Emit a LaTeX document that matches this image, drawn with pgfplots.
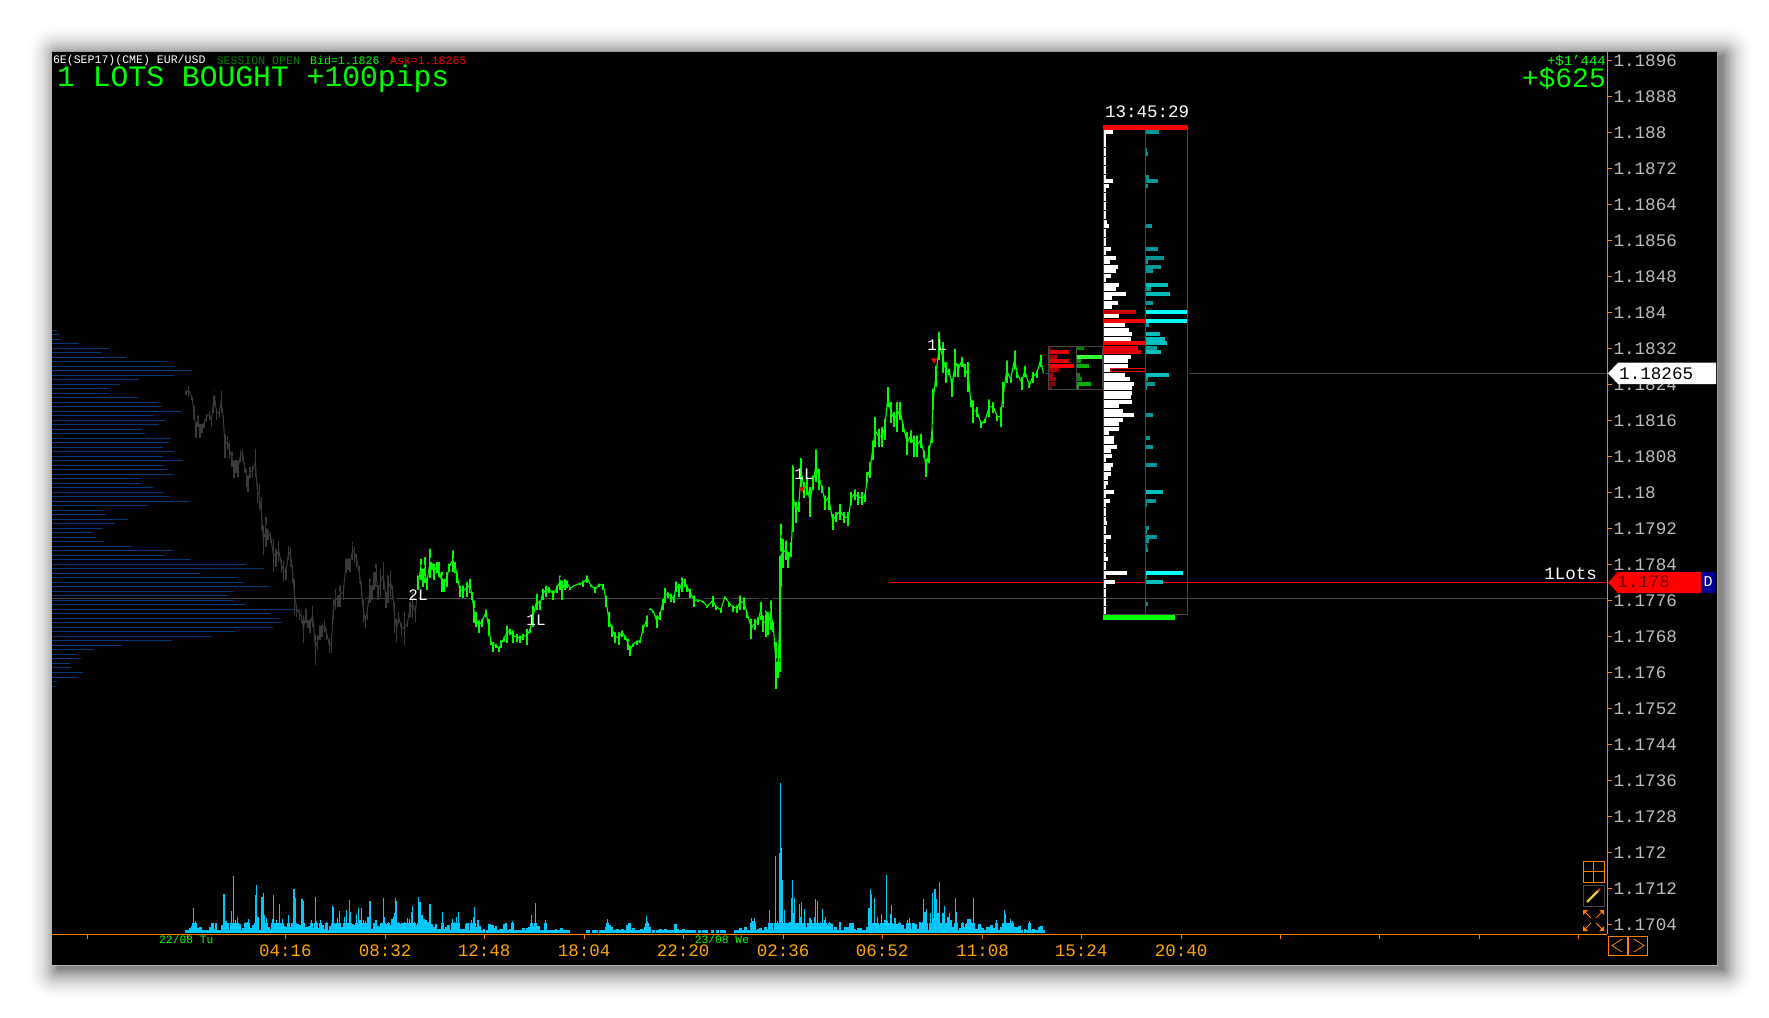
\documentclass[border=0pt]{standalone}
\usepackage{pgfplots}
\usepackage{pgfplotstable}
\usepackage{fontspec}
\setmainfont{Liberation Mono}
\pgfplotsset{compat=1.18}
\newcommand\fs[1]{\fontsize{#1}{#1}\selectfont}
\definecolor{org}{RGB}{255,128,0}
\definecolor{tlab}{RGB}{255,165,0}
\definecolor{vol}{RGB}{0,200,255}
\definecolor{prof}{RGB}{0,56,120}
\definecolor{cand}{RGB}{58,58,58}
\definecolor{grn}{RGB}{0,255,0}
\definecolor{lin}{RGB}{70,70,70}
\definecolor{ylab}{RGB}{190,190,190}
\definecolor{cyA}{RGB}{0,255,255}
\definecolor{cyB}{RGB}{0,190,190}
\definecolor{cyC}{RGB}{0,150,150}
% candle readings: crop x, crop y of high, crop y of low (3x crops of the reference)
\pgfplotstableread[row sep=\\]{a h l\\
48 55 75\\56 42 80\\66 75 90\\72 100 150\\78 150 205\\84 130 170\\90 155 205\\96 155 190\\102 145 175\\110 125 155\\118 115 150\\124 135 170\\130 70 130\\134 55 110\\140 110 150\\148 105 145\\154 55 130\\160 130 165\\165 185 265\\172 190 240\\178 210 265\\186 240 290\\192 265 325\\198 255 310\\204 265 320\\212 235 275\\218 225 275\\224 270 310\\230 290 350\\234 310 365\\240 285 325\\248 280 325\\256 230 320\\262 325 400\\268 335 420\\274 375 480\\280 460 555\\288 435 530\\294 470 510\\302 480 520\\310 500 605\\318 530 590\\326 505 575\\334 555 610\\340 565 635\\348 585 630\\356 520 570\\362 525 590\\368 580 640\\374 620 735\\380 695 740\\388 710 750\\394 715 760\\400 730 820\\408 710 760\\414 745 775\\420 740 790\\428 700 770\\436 780 885\\442 790 840\\450 760 810\\456 755 800\\464 745 790\\470 770 810\\478 800 850\\484 795 850\\490 680 750\\496 650 720\\504 670 710\\510 640 710\\520 640 690\\528 560 610\\534 550 600\\540 560 605\\548 510 570\\554 525 575\\560 545 590\\568 580 640\\574 630 680\\580 680 760\\586 730 775\\592 700 750\\600 620 700\\606 640 690\\612 600 660\\618 575 650\\624 640 690\\632 590 680\\640 570 660\\648 660 715\\654 610 700\\662 595 680\\668 640 690\\674 690 790\\680 740 815\\686 720 760\\694 750 800\\704 720 825\\712 750 770\\720 690 740\\728 660 745\\736 700 755\\740 680 700\\
}\graytab
\pgfplotstableread[row sep=\\]{a h l\\
745 610 660\\752 560 630\\758 590 650\\764 555 640\\770 620 660\\780 530 625\\786 570 600\\792 575 630\\800 570 610\\806 570 620\\815 600 665\\822 620 665\\830 600 650\\838 575 605\\848 535 605\\856 570 610\\862 600 640\\870 640 680\\880 640 685\\890 630 680\\900 620 670\\906 660 690\\912 685 760\\918 720 770\\926 745 790\\935 740 770\\948 712 740\\956 740 800\\962 800 825\\968 810 845\\978 815 835\\986 825 845\\994 805 835\\1002 795 815\\1010 760 820\\1020 770 795\\1030 775 820\\1040 785 815\\1050 790 820\\1060 785 810\\1070 770 825\\1080 770 790\\1090 700 770\\1100 665 720\\1110 685 720\\1118 650 690\\1128 640 680\\1138 645 670\\1150 655 690\\1160 640 670\\1170 610 660\\1176 625 690\\1184 620 660\\1192 625 655\\1200 650 660\\1212 645 650\\1230 635 645\\1240 625 650\\1252 610 640\\1262 640 650\\1276 645 670\\1288 635 650\\1300 635 660\\1308 670 710\\1316 720 770\\1326 760 800\\1336 780 820\\1346 780 825\\1356 775 800\\1366 790 810\\1374 800 840\\1380 820 858\\1390 815 830\\1400 805 825\\1410 805 820\\1420 760 790\\1430 730 770\\
}\greenA
\pgfplotstableread[row sep=\\]{a h l\\
0 860 870\\10 868 880\\20 880 925\\30 870 900\\38 830 870\\45 798 850\\55 810 835\\62 815 845\\72 820 850\\78 778 815\\88 785 830\\96 766 815\\104 770 800\\112 790 815\\120 800 835\\132 820 860\\145 835 845\\160 840 850\\172 855 865\\188 822 860\\198 850 870\\212 860 878\\225 826 835\\238 840 860\\250 850 875\\262 850 878\\270 820 870\\282 826 870\\292 870 895\\304 890 958\\315 890 930\\325 885 915\\332 840 900\\340 880 935\\348 865 950\\355 870 945\\362 835 930\\370 900 935\\378 960 1108\\384 1020 1075\\390 700 1055\\394 605 800\\400 650 745\\408 655 720\\415 690 745\\424 660 710\\430 430 635\\438 540 610\\446 540 575\\454 408 500\\462 480 535\\470 470 525\\480 495 590\\490 460 510\\498 382 485\\508 440 510\\516 490 520\\525 520 570\\536 495 570\\548 575 630\\558 570 605\\570 545 600\\582 570 610\\595 570 618\\604 510 555\\614 502 540\\625 510 555\\635 510 555\\645 515 545\\652 450 490\\660 420 475\\668 355 420\\676 285 380\\686 320 380\\696 315 380\\704 290 360\\714 195 260\\722 240 310\\732 270 320\\740 240 335\\750 240 300\\760 305 335\\772 330 405\\782 325 370\\792 340 410\\802 340 410\\812 335 385\\822 385 415\\828 410 472\\836 370 430\\845 325 370\\850 200 270\\858 130 200\\868 30 120\\878 60 160\\888 120 190\\898 140 165\\906 170 230\\916 80 170\\925 125 170\\935 105 140\\945 125 170\\955 120 215\\962 225 260\\970 235 310\\980 255 290\\994 300 325\\1005 290 310\\1018 232 290\\1030 240 280\\1042 280 302\\1052 255 320\\1060 180 260\\1070 115 190\\1082 165 190\\1094 85 150\\1102 150 175\\1115 165 210\\1124 132 170\\1138 190 205\\1148 150 190\\1160 145 175\\1172 98 140\\1180 155 162\\
}\greenB
% volume: crop x, crop y of bar top
\pgfplotstableread[row sep=\\]{a b\\
108 480\\114 486\\120 474\\126 468\\130 414\\136 452\\142 484\\146 474\\152 470\\158 480\\164 480\\170 486\\176 482\\182 470\\188 458\\194 476\\198 458\\204 484\\210 480\\216 465\\222 372\\228 454\\234 460\\240 486\\244 422\\250 318\\256 450\\262 442\\268 462\\274 486\\280 474\\286 456\\292 456\\296 446\\302 474\\310 465\\316 375\\320 345\\324 440\\330 480\\336 380\\340 370\\344 435\\350 445\\356 470\\362 478\\368 448\\370 375\\376 475\\380 450\\386 465\\388 402\\394 462\\398 447\\404 468\\410 470\\416 435\\420 470\\426 460\\432 358\\436 385\\442 462\\448 466\\456 388\\460 392\\466 470\\472 470\\478 468\\484 450\\490 475\\496 381\\500 452\\506 475\\512 450\\518 465\\524 476\\530 456\\536 480\\542 468\\548 408\\550 410\\556 462\\562 445\\568 422\\574 472\\580 482\\584 442\\590 420\\596 460\\598 390\\602 426\\608 462\\614 464\\620 433\\625 415\\630 450\\634 414\\640 450\\646 452\\652 442\\656 442\\660 393\\666 476\\672 460\\678 450\\684 468\\690 470\\694 458\\700 384\\704 442\\710 462\\716 456\\720 464\\726 448\\730 440\\734 430\\737 384\\740 393\\746 456\\752 462\\758 458\\764 456\\770 458\\772 444\\778 448\\784 426\\788 408\\794 455\\800 465\\805 381\\810 396\\816 435\\822 448\\828 450\\834 455\\840 402\\846 462\\852 472\\858 462\\864 476\\870 478\\876 476\\878 426\\884 476\\890 470\\896 465\\902 480\\908 447\\914 456\\920 441\\925 426\\930 476\\936 478\\942 476\\948 462\\952 458\\956 484\\964 450\\970 442\\973 411\\978 470\\984 450\\990 468\\996 482\\1002 478\\1012 480\\1018 462\\1024 472\\1028 465\\1034 474\\1038 468\\1044 486\\1050 476\\1056 476\\1062 462\\1068 458\\1074 480\\1080 476\\1088 453\\1094 484\\1100 480\\1106 484\\1112 486\\1120 474\\1126 480\\1132 474\\1138 470\\1144 435\\1150 468\\1156 400\\1162 470\\1166 468\\1172 484\\1180 484\\1187 450\\1192 484\\1200 486\\1206 482\\1212 484\\1218 478\\1224 482\\1230 480\\1234 474\\1242 484\\1248 486\\1256 486\\1312 484\\1316 486\\1330 487\\1340 484\\1350 486\\1356 484\\1362 480\\1368 472\\1372 447\\1378 466\\1384 472\\1390 480\\1396 484\\1402 478\\1410 484\\1418 478\\1424 484\\1432 466\\1438 460\\1444 480\\1450 474\\1456 482\\1462 480\\1468 484\\1474 478\\1480 480\\1486 470\\1489 438\\1493 454\\1498 470\\
}\volA
\pgfplotstableread[row sep=\\]{a b\\
0 486\\10 484\\20 484\\30 476\\36 484\\44 476\\52 480\\58 484\\66 480\\72 462\\78 478\\86 484\\94 478\\102 486\\110 486\\116 480\\124 482\\138 486\\150 486\\158 484\\176 486\\190 483\\200 487\\208 487\\240 486\\246 484\\254 474\\260 482\\268 472\\276 482\\284 445\\288 452\\293 444\\298 482\\304 478\\310 474\\316 482\\324 472\\330 476\\335 420\\340 458\\346 480\\351 258\\356 452\\362 250\\366 40\\369 235\\371 330\\376 420\\380 462\\386 460\\392 455\\397 384\\399 330\\402 430\\405 385\\410 460\\418 402\\422 440\\424 396\\428 465\\432 416\\438 470\\444 458\\448 445\\452 450\\456 462\\460 440\\464 388\\468 394\\472 460\\478 456\\483 418\\488 450\\492 440\\498 465\\503 455\\508 462\\514 480\\520 470\\526 480\\532 456\\536 480\\542 484\\548 472\\554 470\\560 458\\566 458\\572 478\\578 486\\584 474\\590 474\\596 486\\604 480\\610 470\\613 414\\617 358\\620 372\\625 460\\628 384\\632 460\\636 440\\640 464\\644 468\\648 432\\654 460\\658 450\\662 316\\665 452\\670 462\\673 432\\676 405\\680 462\\686 444\\692 462\\698 455\\704 476\\708 466\\714 476\\720 450\\726 444\\732 478\\738 458\\744 462\\750 478\\756 456\\762 456\\765 388\\770 426\\775 418\\780 480\\785 430\\790 370\\793 445\\798 358\\802 388\\806 430\\810 336\\815 460\\820 430\\824 408\\830 462\\834 440\\838 428\\843 450\\848 470\\855 385\\858 425\\864 480\\870 475\\874 455\\880 470\\885 462\\890 448\\896 448\\900 455\\905 385\\910 482\\915 478\\922 462\\926 470\\932 475\\938 482\\944 472\\950 470\\956 466\\964 474\\970 450\\976 484\\984 472\\990 460\\993 420\\996 432\\1002 460\\1008 478\\1010 447\\1015 452\\1022 472\\1028 470\\1034 468\\1040 484\\1050 478\\1056 484\\1062 453\\1068 480\\1074 476\\1082 480\\1090 472\\1097 468\\1102 484\\
}\volB
% left volume profile
\pgfplotstableread[row sep=\\]{a b\\
31 81\\43 90\\58 90\\70 147\\85 237\\97 213\\112 288\\124 414\\139 435\\151 486\\166 429\\178 327\\193 270\\205 237\\220 237\\232 324\\247 381\\259 396\\274 453\\286 369\\301 405\\313 387\\328 336\\340 345\\355 423\\367 417\\382 399\\394 432\\409 399\\421 459\\436 402\\448 414\\463 429\\475 333\\490 333\\502 369\\517 402\\529 417\\544 477\\556 354\\571 222\\583 228\\598 294\\610 255\\625 219\\637 186\\652 198\\664 222\\679 306\\691 429\\706 402\\718 480\\733 648\\745 702\\760 510\\772 621\\787 642\\799 717\\814 609\\826 594\\841 609\\853 645\\868 810\\880 720\\895 750\\907 756\\922 729\\934 615\\949 546\\961 426\\976 276\\988 192\\1003 138\\1015 153\\1030 120\\1042 123\\1057 159\\1072 141\\1084 81\\1099 75\\
}\proftab
% horizontal bars from crop readings, cut off on the left by their axis window: #1 colour, #2 height, #3 y offset, #4 table
\newcommand\hbars[4]{\addplot[xcomb,color=#1,line width=#2pt,forget plot]
 table[row sep=\\,x expr={1030+\thisrow{b}/3},y expr={#3+\thisrow{a}/3}]{#4};}
% candles: #1 colour #2 x off #3 y off #4 table #5 bar width #6 midline width
\newcommand\candles[6]{\addplot[only marks,mark=none,forget plot,error bars/.cd,y dir=plus,y explicit,error mark=none,error bar style={line width=#5pt,color=#1}]
 table[x expr={#2+\thisrow{a}/3},y expr={#3+\thisrow{h}/3},y error plus expr={(\thisrow{l}-\thisrow{h})/3}]{#4};
 \addplot[#1,line width=#6pt,forget plot] table[x expr={#2+\thisrow{a}/3},y expr={#3+(\thisrow{h}+\thisrow{l})/6}]{#4};}
% volume: #1 x off #2 x scale #3 table
\newcommand\volbars[3]{\addplot[ycomb,vol,line width=2.8pt,forget plot]
 table[x expr={#1+\thisrow{a}/#2},y expr={(488-max(min(\thisrow{b},480),458))/3}]{#3};
 \addplot[ycomb,vol,line width=1.3pt,forget plot]
 table[x expr={#1+\thisrow{a}/#2},y expr={(488-\thisrow{b})/3}]{#3};}
\pgfplotsset{ladder/.style 2 args={at={(#1pt,-934pt)},anchor=south west,scale only axis,hide axis,width=#2pt-#1pt,height=882pt,xmin=#1,xmax=#2,ymin=52,ymax=934,y dir=reverse}}
\begin{document}
\begin{tikzpicture}[x=1pt,y=1pt]
\path[use as bounding box,fill=white] (0,0) rectangle (1769,-1017);
\foreach \i in {32,31,...,0}{
 \pgfmathsetmacro\p{48*(1-\i/32)^2.2}
 \pgfmathsetmacro\xa{58-\i*1.1}
 \pgfmathsetmacro\ya{-56+\i*1.1}
 \pgfmathsetmacro\xb{1723+\i*1.1}
 \pgfmathsetmacro\yb{-969-\i*1.1}
 \fill[black!\p!white,rounded corners=\i pt] (\xa,\ya) rectangle (\xb,\yb);
}
\fill[black] (52,-52) rectangle (1717,-965);
\draw[gray!80,line width=1.2pt] (52,-51.6) -- (1717.5,-51.6) -- (1717.5,-965);
\draw[gray!60,line width=1pt] (52,-965.5) -- (1717.5,-965.5);
\begin{axis}[at={(52pt,-934pt)},anchor=south west,scale only axis,width=1555pt,height=882pt,
 xmin=52,xmax=1607,ymin=52,ymax=934,y dir=reverse,
 axis x line=bottom,axis y line=right,axis line style={org,-,line width=1pt},
 tick style={org,line width=1pt},tick align=outside,major tick length=5pt,
 clip mode=individual,
 xtick={87,187,285.3,385,484,584,683,783,882,982.5,1081,1181,1280,1379,1479,1578},
 xticklabels={,,04:16,08:32,12:48,18:04,22:20,02:36,06:52,11:08,15:24,20:40,,,,},
 x tick label style={text=tlab,font=\fs{17.5},yshift=-2pt},
 ytick={60,96,132,168,204,240,276,312,348,384,420,456,492,528,564,600,636,672,708,744,780,816,852,888,924},
 yticklabels={1.1896,1.1888,1.188,1.1872,1.1864,1.1856,1.1848,1.184,1.1832,1.1824,1.1816,1.1808,1.18,1.1792,1.1784,1.1776,1.1768,1.176,1.1752,1.1744,1.1736,1.1728,1.172,1.1712,1.1704},
 y tick label style={text=ylab,font=\fs{17.6},anchor=west,xshift=-2pt,yshift=-1pt},
]
% volume profile
\addplot[xcomb,prof,line width=1pt,forget plot]
 table[x expr={30+\thisrow{b}/3},y expr={320+\thisrow{a}/3}]{\proftab};
% reference lines
\addplot[lin,line width=1pt,forget plot] coordinates {(52,598.3)(1607,598.3)};
\addplot[lin,line width=1pt,forget plot] coordinates {(1189,373.3)(1607,373.3)};
\addplot[lin,line width=1pt,forget plot] coordinates {(1043,373.3)(1048,373.3)};
\addplot[red,line width=1pt,forget plot] coordinates {(890,582.3)(1607,582.3)};
% candles
\candles{cand}{170}{370}{\graytab}{1.6}{1}
\candles{grn}{170}{370}{\greenA}{2}{1.1}
\candles{grn}{650}{320}{\greenB}{2}{1.1}
\addplot[only marks,red,mark=triangle*,mark size=3pt,mark options={rotate=180},forget plot] coordinates {(802,489)(934,360)};
\end{axis}
% volume bars, height in pixels above the time axis
\begin{axis}[at={(52pt,-932.7pt)},anchor=south west,scale only axis,hide axis,width=1555pt,height=200pt,xmin=52,xmax=1607,ymin=0,ymax=200]
\volbars{150}{3}{\volA}
\volbars{650}{2.8}{\volB}
\end{axis}
% small ladder, left box
\begin{axis}[ladder={1049}{1076}]
\hbars{red!88!black}{4}{90}{a b\\786 117\\813 117\\}
\hbars{red}{4}{90}{a b\\828 132\\}
\hbars{red!65!black}{4}{90}{a b\\801 81\\840 87\\855 69\\867 78\\}
\hbars{red!50!black}{4}{370}{a b\\42 78\\54 66\\}
\hbars{red!50!black}{4}{90}{a b\\774 63\\}
\end{axis}
\begin{axis}[ladder={1077}{1102}]
\hbars{green!55!black}{4}{90}{a b\\774 162\\813 153\\855 150\\867 156\\}
\hbars{green!70!black}{4}{90}{a b\\828 177\\}
\hbars{green!70!black}{4}{370}{a b\\42 183\\54 147\\}
\hbars{green!80!white}{4}{90}{a b\\801 216\\}
\end{axis}
% main ladder
\begin{axis}[ladder={1104}{1145}]
\hbars{white}{4.4}{90}{a b\\126 249\\138 228\\152 228\\165 228\\180 228\\192 228\\207 228\\219 228\\234 228\\246 228\\261 228\\273 249\\288 237\\300 228\\315 228\\327 228\\342 228\\354 228\\369 228\\381 228\\396 231\\408 237\\423 228\\435 228\\450 228\\462 228\\477 243\\489 228\\504 258\\516 240\\531 264\\543 258\\558 243\\570 228\\585 267\\597 258\\612 288\\624 246\\639 264\\651 246\\678 267\\705 285\\720 297\\732 306\\747 303\\801 303\\813 294\\828 294\\840 240\\}
\hbars{white}{4.4}{370}{a b\\15 285\\27 300\\42 312\\54 306\\69 306\\81 303\\96 306\\108 267\\123 279\\135 312\\150 279\\162 267\\177 267\\189 237\\204 252\\216 252\\231 261\\243 243\\258 246\\270 228\\285 249\\297 243\\312 243\\324 234\\339 234\\351 228\\366 252\\378 228\\393 240\\405 228\\420 228\\432 228\\447 228\\459 231\\474 228\\486 228\\501 243\\513 228\\528 228\\540 228\\555 228\\567 234\\582 228\\594 228\\609 291\\621 228\\636 255\\648 228\\663 228\\675 228\\690 228\\702 228\\717 228\\729 228\\}
\hbars{red!80!black}{4}{90}{a b\\666 318\\}
\hbars{red}{4}{90}{a b\\693 345\\759 345\\}
\hbars{red!90!black}{4}{90}{a b\\774 324\\786 333\\}
\end{axis}
\begin{axis}[ladder={1146}{1188}]
\hbars{cyA}{4}{90}{a b\\666 474\\693 471\\}
\hbars{cyA}{4}{370}{a b\\609 459\\}
\hbars{cyB}{4}{90}{a b\\585 414\\612 420\\732 390\\747 405\\759 411\\786 393\\855 417\\}
\hbars{cyB}{4}{370}{a b\\15 417\\366 399\\636 399\\}
\hbars{cyC}{4}{90}{a b\\126 387\\180 351\\192 354\\261 357\\273 384\\288 354\\408 366\\477 384\\504 402\\516 354\\531 393\\543 369\\597 363\\639 369\\705 357\\774 381\\867 354\\}
\hbars{cyC}{4}{370}{a b\\27 354\\42 375\\54 351\\135 369\\204 360\\231 369\\285 381\\393 378\\405 351\\474 357\\486 351\\501 381\\513 357\\528 351\\540 354\\621 351\\702 354\\}
\end{axis}
% ladder frames
\draw[lin,line width=1pt] (1103,-130) -- (1103,-614.3) -- (1187.3,-614.3) -- (1187.3,-130);
\draw[lin,line width=1pt] (1145.3,-130) -- (1145.3,-614.3);
\draw[lin,line width=1pt] (1048.3,-346) rectangle (1102.3,-389.3) (1076.3,-346) -- (1076.3,-389.3);
\fill[red] (1103,-125) rectangle (1188,-130);
\fill[grn] (1103,-615) rectangle (1175,-620);
\draw[red,line width=1pt] (1110,-368.3) rectangle (1145.3,-371.7);
% header
\node[anchor=west,inner sep=0,text=white,font=\fs{11.55}] at (52.8,-60.7) {6E(SEP17)(CME) EUR/USD};
\node[anchor=west,inner sep=0,text=green!50!black,font=\fs{11.55}] at (216.6,-60.7) {SESSION OPEN};
\node[anchor=west,inner sep=0,text=grn,font=\fs{11.55}] at (310,-60.7) {Bid=1.1826};
\node[anchor=west,inner sep=0,text=red,font=\fs{11.55}] at (390,-60.7) {Ask=1.18265};
\node[anchor=west,inner sep=0,text=grn,font=\fs{29.7}] at (57,-78.5) {1 LOTS BOUGHT +100pips};
\node[anchor=east,inner sep=0,text=grn,font=\fs{28}] at (1606,-78.5) {+\$625};
\node[anchor=east,inner sep=0,text=grn,font=\fs{14}] at (1606,-60.7) {+\$1'444};
\node[anchor=center,inner sep=0,text=white,font=\fs{17.5}] at (1147,-111.7) {13:45:29};
% trade markers
\foreach \x/\y/\t in {418/595/2L,536/620/1L,804/474/1L,937/345/1L}
 \node[inner sep=0,text=white,font=\fs{16}] at (\x,-\y) {\t};
\node[anchor=east,inner sep=0,text=white,font=\fs{17.5}] at (1597,-574) {1Lots};
\node[anchor=west,inner sep=0,text=grn,font=\fs{11.3}] at (159,-939.5) {22/08 Tu};
\node[anchor=west,inner sep=0,text=grn,font=\fs{11.3}] at (694.6,-939.5) {23/08 We};
% price tags
\fill[white] (1608,-373.3) -- (1618,-362.7) -- (1716,-362.7) -- (1716,-384) -- (1618,-384) -- cycle;
\node[anchor=west,inner sep=0,text=black,font=\fs{17.6}] at (1619,-374) {1.18265};
\fill[red] (1608,-582.5) -- (1618,-572) -- (1701,-572) -- (1701,-593) -- (1618,-593) -- cycle;
\fill[blue!60!black] (1701,-572) rectangle (1715,-593);
\node[anchor=west,inner sep=0,text=red!45!black,font=\fs{17.6}] at (1617,-582) {1.178};
\node[inner sep=0,text=white,font=\fs{15}] at (1708,-582) {D};
% toolbar icons
\draw[org,line width=1pt] (1583,-861) rectangle (1604,-882) (1593.5,-861) -- (1593.5,-882) (1583,-871.5) -- (1604,-871.5);
\draw[lin,line width=1pt] (1583,-885) rectangle (1604,-906);
\draw[brown!50!yellow!80!white,line width=2.2pt] (1587,-902) -- (1598,-891);
\draw[red!60!gray,line width=2.2pt] (1598,-891) -- (1600,-889);
\draw[org,line width=1pt] (1584,-911) -- (1591,-918) (1603,-911) -- (1596,-918) (1584,-930) -- (1591,-923) (1603,-930) -- (1596,-923);
\fill[org] (1583,-910) -- (1588,-910) -- (1583,-915) -- cycle (1604,-910) -- (1599,-910) -- (1604,-915) -- cycle (1583,-931) -- (1588,-931) -- (1583,-926) -- cycle (1604,-931) -- (1599,-931) -- (1604,-926) -- cycle;
\draw[org,line width=1pt] (1608.5,-936) rectangle (1627,-955) (1628.5,-936) rectangle (1647,-955);
\draw[org,line width=.8pt] (1622,-939) -- (1612,-945.5) -- (1622,-952) (1634,-939) -- (1644,-945.5) -- (1634,-952);
\end{tikzpicture}
\end{document}
